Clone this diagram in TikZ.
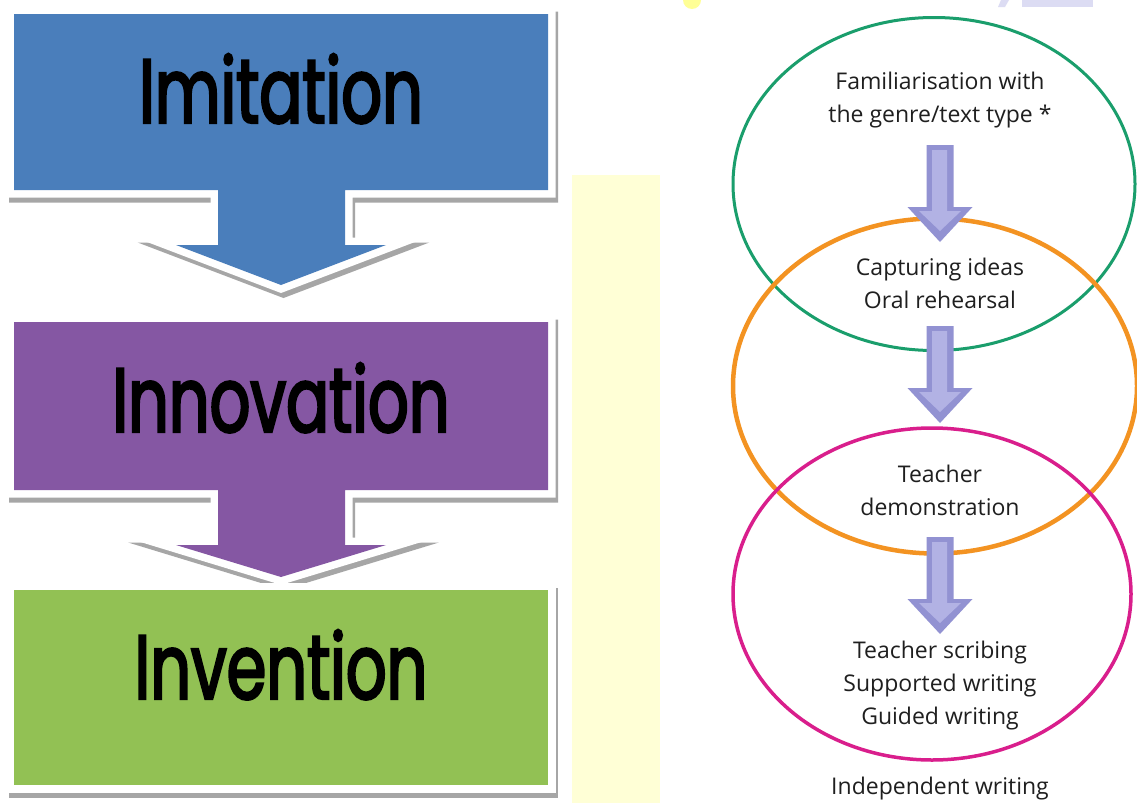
\documentclass[tikz,border=0pt]{standalone}
\usepackage{fontspec}
\setmainfont{Open Sans}
\newfontfamily\stagefont[FakeStretch=0.70, FakeBold=2.5]{Poppins}
\usetikzlibrary{positioning, shapes.geometric}

\definecolor{imiblue}{HTML}{4A7EBB}
\definecolor{innpurple}{HTML}{8557A3}
\definecolor{invgreen}{HTML}{92C154}
\definecolor{ringgreen}{HTML}{1A9E6C}
\definecolor{ringorange}{HTML}{F39322}
\definecolor{ringpink}{HTML}{D91E8C}
\definecolor{lavdark}{HTML}{9292D2}
\definecolor{lavlight}{HTML}{B2B2E4}
\definecolor{paleyellow}{HTML}{FFFFD6}

% box with a down arrow hanging under it: top, bottom, tip
\newcommand{\calloutpath}[3]{(14,#1) -- (548,#1) -- (548,#2) -- (345,#2)
  -- (345,#2+55) -- (386,#2+55) -- (281,#3) -- (176,#2+55) -- (218,#2+55)
  -- (218,#2) -- (14,#2) -- cycle}

\begin{document}
\begin{tikzpicture}[
    x=1pt, y=-1pt,
    boxshadow/.style={fill=black!35, draw=black!35, line width=15pt,
                      line join=miter, shift={(2.5,5)}},
    boxframe/.style={fill=white, draw=white, line width=15pt, line join=miter},
    stage/.style={font=\stagefont\fontsize{91}{91}\selectfont,
                  text=black, anchor=base, inner sep=0pt},
    ring/.style={ellipse, draw, inner sep=0pt},
    steptext/.style={font=\fontsize{23}{33}\selectfont, text=black!88,
                     align=center, inner sep=0pt}
  ]
  \useasboundingbox (0,0) rectangle (1137,803);
  \fill[white] (0,0) rectangle (1137,803);

  % pale strip and scraps behind the rings
  \fill[paleyellow] (572,175) rectangle (660,803);
  \fill[paleyellow!70!yellow] (692,0) circle (9);
  \fill[lavlight!45] (1001,0) -- (1009,0) -- (1005,7) -- (998,7) -- cycle;
  \fill[lavlight!45] (1022,0) rectangle (1093,7);

  % imitation -> innovation -> invention
  \foreach \ya/\yb/\yt/\c in {14/190/285/imiblue, 322/490/577/innpurple} {
    \draw[boxshadow] \calloutpath{\ya}{\yb}{\yt};
    \draw[boxframe] \calloutpath{\ya}{\yb}{\yt};
    \fill[\c] \calloutpath{\ya}{\yb}{\yt};
  }
  \draw[boxshadow] (14,590) rectangle (548,785);
  \draw[boxframe] (14,590) rectangle (548,785);
  \fill[invgreen] (14,590) rectangle (548,785);

  \node[stage] (imi) at (281,123) {Imitation};
  \node[stage] (inn) at (281,432) {Innovation};
  \node[stage] (inv) at (281,699) {Invention};

  % overlapping rings
  \node[ring, draw=ringgreen, line width=3pt, minimum width=402pt,
        minimum height=333pt] (famring) at (934,184) {};
  \node[ring, draw=ringorange, line width=4.5pt, minimum width=404pt,
        minimum height=335pt] (capring) at (935,386) {};
  \node[ring, draw=ringpink, line width=3.5pt, minimum width=398pt,
        minimum height=332pt] (demring) at (932,594) {};

  \foreach \n/\ys in {1/145, 2/326, 3/537} {
    \coordinate (s\n) at (940,\ys);
    \fill[lavdark, shift={(s\n)}] (-13.5,0) -- (13.5,0) -- (13.5,62)
      -- (32.5,62) -- (0,97) -- (-32.5,62) -- (-13.5,62) -- cycle;
    \fill[lavlight, shift={(s\n)}] (-8,5) -- (7,5) -- (7,66)
      -- (21,66) -- (0,86) -- (-21,66) -- (-8,66) -- cycle;
  }

  \node[steptext] (fam) at (940,100) {Familiarisation with\\the genre/text type *};
  \node[steptext] (cap) at (940,283) {Capturing ideas\\Oral rehearsal};
  \node[steptext] (dem) at (940,490) {Teacher\\demonstration};
  \node[steptext] (scr) at (940,686) {Teacher scribing\\Supported writing\\Guided writing};
  \node[steptext] (ind) at (940,789) {Independent writing};
\end{tikzpicture}
\end{document}
